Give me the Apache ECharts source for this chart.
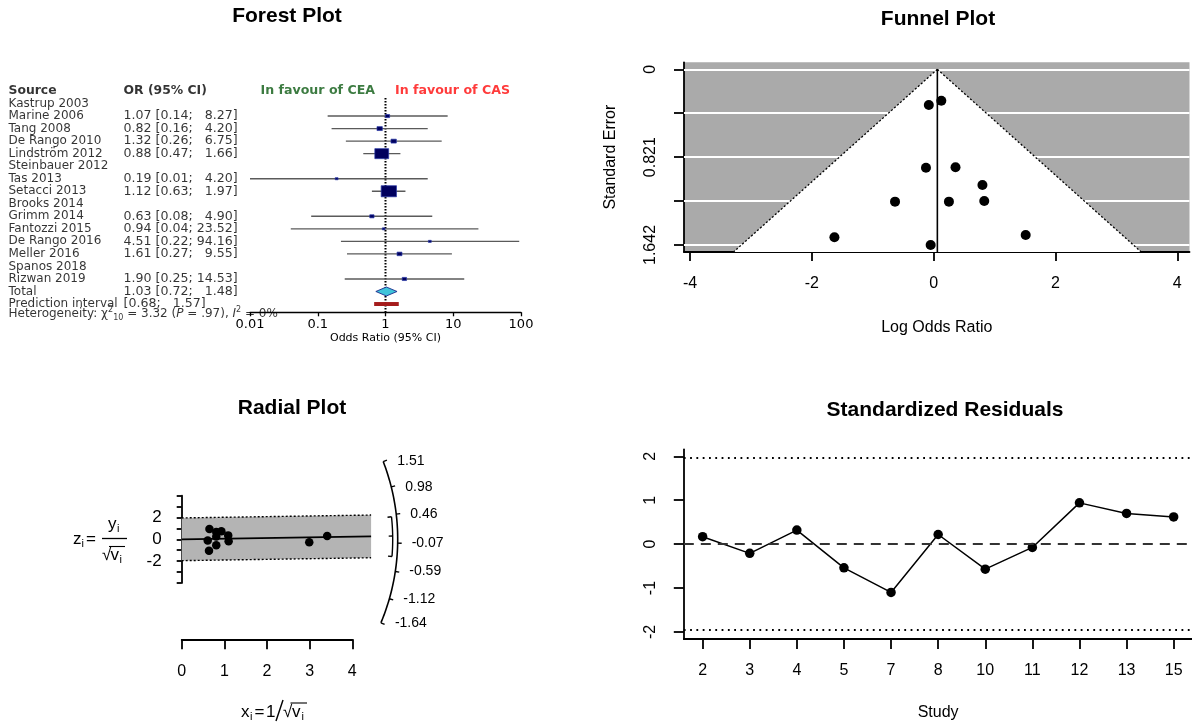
<!DOCTYPE html>
<html>
<head>
<meta charset="utf-8">
<script src="https://cdn.jsdelivr.net/npm/echarts@6/dist/echarts.min.js"></script>
<style>html,body{margin:0;padding:0;background:#fff}#c{width:1192px;height:725px}</style>
</head>
<body>
<div id="c"></div>
<script>
// ---------------- DATA ----------------
// Forest plot
const studies = ['Kastrup 2003','Marine 2006','Tang 2008','De Rango 2010','Lindström 2012','Steinbauer 2012','Tas 2013','Setacci 2013','Brooks 2014','Grimm 2014','Fantozzi 2015','De Rango 2016','Meller 2016','Spanos 2018','Rizwan 2019'];
const orValues = [null,1.07,0.82,1.32,0.88,null,0.19,1.12,null,0.63,0.94,4.51,1.61,null,1.90];
const ciLower  = [null,0.14,0.16,0.26,0.47,null,0.01,0.63,null,0.08,0.04,0.22,0.27,null,0.25];
const ciUpper  = [null,8.27,4.20,6.75,1.66,null,4.20,1.97,null,4.90,23.52,94.16,9.55,null,14.53];
const weights  = [null,3.1,4.9,4.9,32.7,null,1.4,40.0,null,3.1,1.3,1.4,4.1,null,3.2];
const totalOR = [1.03, 0.72, 1.48];
const predInterval = [0.68, 1.57];
const hetChi2 = '3.32', hetDf = '10', hetP = '.97', hetI2 = '0%';
const forestTickLabels = ['0.01','0.1','1','10','100'];

// Funnel plot (log odds ratio, standard error)
const funnelLogOR = [0.125,-0.08,-0.127,0.358,0.80,-0.635,0.25,0.83,-1.63,1.51,-0.05];
const funnelSE    = [0.293,0.334,0.92,0.916,1.081,1.237,1.237,1.231,1.57,1.549,1.642];
const pooledEstimate = 0.06;
const pooledCI = [-0.32, 0.42];
const funnelYTicks = [0, 0.4105, 0.821, 1.2315, 1.642];
const funnelYLabels = [0, 0.821, 1.642];
const funnelXTicks = [-4,-2,0,2,4];

// Radial plot
const radialX = [0.61,0.64,0.65,0.81,0.81,0.81,0.93,1.09,1.10,2.99,3.41];
const radialZ = [-0.10,-1.06,0.95,-0.55,0.25,0.68,0.74,0.36,-0.18,-0.27,0.31];
const radialArcTicks = ['1.51','0.98','0.46','-0.07','-0.59','-1.12','-1.64'];
const radialYLabels = [-2,0,2];

// Standardized residuals
const residStudy  = ['2','3','4','5','7','8','10','11','12','13','15'];
const residValues = [0.17,-0.21,0.32,-0.54,-1.10,0.22,-0.57,-0.075,0.94,0.70,0.62];
const residTicks  = [-2,-1,0,1,2];
const residLimit  = 1.96;

// ---------------- LAYOUT / STYLE ----------------
const FONT = 'Liberation Sans, Arial, Helvetica, sans-serif';
const DJ = 'DejaVu Sans, sans-serif';
const FOREST_YMAX = 17.66;
const FUNNEL_YMIN = -0.0657, FUNNEL_YMAX = 1.7077;
const RADIAL_XMAX = 4.44;

const fmt = v => v.toFixed(2);
const padHi = v => (v < 10 ? '  ' : '') + fmt(v);

// forest text column
const ORCOL = {fontSize:12.6};
const textData = [];
textData.push({name:'Source', value:[8,0], label:{fontWeight:'bold', fontSize:12.4}});
textData.push({name:'OR (95% CI)', value:[123,0], label:{fontWeight:'bold', fontSize:12.4}});
studies.forEach((s,i) => {
  textData.push({name:s, value:[8,i+1]});
  if (orValues[i] != null) textData.push({name:`${fmt(orValues[i])} [${fmt(ciLower[i])}; ${padHi(ciUpper[i])}]`, value:[123,i+1], label:ORCOL});
});
textData.push({name:'Total', value:[8,16]});
textData.push({name:`${fmt(totalOR[0])} [${fmt(totalOR[1])}; ${padHi(totalOR[2])}]`, value:[123,16], label:ORCOL});
textData.push({name:'Prediction interval', value:[8,17]});
textData.push({name:`[${fmt(predInterval[0])}; ${padHi(predInterval[1])}]`, value:[123,17], label:ORCOL});
textData.push({name:`Heterogeneity: χ{sup|2}{sub|${hetDf}} = ${hetChi2} ({it|P} = ${hetP}), {it|I}{sup|2} = ${hetI2}`, value:[8,17.78]});

const forestCI = [];
studies.forEach((s,i) => { if (orValues[i] != null) forestCI.push([ciLower[i], ciUpper[i], i+1, orValues[i], weights[i]]); });

const lineAx = {show:true, onZero:false, lineStyle:{color:'#000', width:1.8}};
const tickAx = (len) => ({show:true, inside:false, length:len, lineStyle:{color:'#000', width:1.8}});
const noSplit = {show:false};

const option = {
  animation:false,
  backgroundColor:'#fff',
  textStyle:{fontFamily:FONT},
  grid:[
    {left:0, top:91, width:250, height:221.3, outerBoundsMode:'none', containLabel:false},
    {left:250, top:91, width:271, height:221.3, outerBoundsMode:'none', containLabel:false},
    {left:684, top:62.3, width:505.5, height:189.7, show:true, backgroundColor:'#aaaaaa', borderWidth:0, borderColor:'transparent', outerBoundsMode:'none', containLabel:false},
    {left:181.7, top:495.7, width:189.4, height:87.2, outerBoundsMode:'none', containLabel:false},
    {left:181.7, top:638.3, width:170.6, height:1, outerBoundsMode:'none', containLabel:false},
    {left:683.8, top:449.3, width:508.7, height:189.7, outerBoundsMode:'none', containLabel:false}
  ],
  xAxis:[
    {gridIndex:0, type:'value', min:0, max:250, show:false},
    {gridIndex:1, type:'log', logBase:10, min:0.01, max:100,
      axisLine:{show:true, onZero:false, lineStyle:{color:'#000', width:1.3}},
      axisTick:{show:true, inside:false, length:4, lineStyle:{color:'#000', width:1.3}},
      axisLabel:{color:'#000', fontFamily:DJ, fontSize:13, margin:6,
        formatter: v => forestTickLabels[Math.round(Math.log10(v)) + 2]},
      splitLine:noSplit, minorTick:{show:false},
      name:'Odds Ratio (95% CI)', nameLocation:'middle', nameGap:17,
      nameTextStyle:{color:'#000', fontFamily:DJ, fontSize:11}},
    {gridIndex:2, type:'value', min:-4.1, max:4.2,
      axisLine:lineAx, axisTick:Object.assign(tickAx(9), {customValues:funnelXTicks}),
      axisLabel:{color:'#000', fontFamily:FONT, fontSize:16, margin:24, customValues:funnelXTicks},
      splitLine:noSplit,
      name:'Log Odds Ratio', nameLocation:'middle', nameGap:68,
      nameTextStyle:{color:'#000', fontFamily:FONT, fontSize:16}},
    {gridIndex:3, type:'value', min:0, max:RADIAL_XMAX, show:false},
    {gridIndex:4, type:'value', min:0, max:4, interval:1,
      axisLine:lineAx, axisTick:tickAx(10),
      axisLabel:{color:'#000', fontFamily:FONT, fontSize:16, margin:24},
      splitLine:noSplit},
    {gridIndex:5, type:'value', min:0.6, max:11.4,
      axisLine:lineAx,
      axisTick:Object.assign(tickAx(10), {customValues:residStudy.map((_,i)=>i+1)}),
      axisLabel:{color:'#000', fontFamily:FONT, fontSize:16, margin:24,
        customValues:residStudy.map((_,i)=>i+1), formatter: v => residStudy[Math.round(v)-1]},
      splitLine:noSplit,
      name:'Study', nameLocation:'middle', nameGap:66,
      nameTextStyle:{color:'#000', fontFamily:FONT, fontSize:16}}
  ],
  yAxis:[
    {gridIndex:0, type:'value', inverse:true, min:0, max:FOREST_YMAX, show:false},
    {gridIndex:1, type:'value', inverse:true, min:0, max:FOREST_YMAX, show:false},
    {gridIndex:2, type:'value', inverse:true, min:FUNNEL_YMIN, max:FUNNEL_YMAX,
      axisLine:lineAx, axisTick:Object.assign(tickAx(10), {customValues:funnelYTicks}),
      axisLabel:{color:'#000', fontFamily:FONT, fontSize:16, margin:25, rotate:90, customValues:funnelYLabels},
      splitLine:noSplit,
      name:'Standard Error', nameLocation:'middle', nameRotate:90, nameGap:65,
      nameTextStyle:{color:'#000', fontFamily:FONT, fontSize:16}},
    {gridIndex:3, type:'value', min:-4, max:4, interval:1,
      axisLine:lineAx, axisTick:tickAx(5),
      axisLabel:{color:'#000', fontFamily:FONT, fontSize:17, margin:20,
        formatter: v => radialYLabels.includes(v) ? String(v) : ''},
      splitLine:noSplit},
    {gridIndex:4, type:'value', min:0, max:1, show:false},
    {gridIndex:5, type:'value', min:-2.16, max:2.16,
      axisLine:lineAx, axisTick:Object.assign(tickAx(10), {customValues:residTicks}),
      axisLabel:{color:'#000', fontFamily:FONT, fontSize:16, margin:25, rotate:90, customValues:residTicks},
      splitLine:noSplit}
  ],
  graphic:[
    {type:'text', x:287, y:16, style:{text:'Forest Plot', fontFamily:FONT, fontSize:21, fontWeight:'bold', fill:'#000', align:'center', verticalAlign:'middle'}},
    {type:'text', x:938, y:19, style:{text:'Funnel Plot', fontFamily:FONT, fontSize:21, fontWeight:'bold', fill:'#000', align:'center', verticalAlign:'middle'}},
    {type:'text', x:292, y:408, style:{text:'Radial Plot', fontFamily:FONT, fontSize:21, fontWeight:'bold', fill:'#000', align:'center', verticalAlign:'middle'}},
    {type:'text', x:945, y:410, style:{text:'Standardized Residuals', fontFamily:FONT, fontSize:21, fontWeight:'bold', fill:'#000', align:'center', verticalAlign:'middle'}},
    // radial y label: z_i = y_i / sqrt(v_i)
    {type:'text', x:73, y:539, style:{text:'z', fontFamily:FONT, fontSize:17, fill:'#000', align:'left', verticalAlign:'middle'}},
    {type:'text', x:81.5, y:544, style:{text:'i', fontFamily:FONT, fontSize:11, fill:'#000', align:'left', verticalAlign:'middle'}},
    {type:'text', x:86, y:539, style:{text:'=', fontFamily:FONT, fontSize:17, fill:'#000', align:'left', verticalAlign:'middle'}},
    {type:'text', x:108, y:524, style:{text:'y', fontFamily:FONT, fontSize:17, fill:'#000', align:'left', verticalAlign:'middle'}},
    {type:'text', x:117, y:529, style:{text:'i', fontFamily:FONT, fontSize:11, fill:'#000', align:'left', verticalAlign:'middle'}},
    {type:'line', shape:{x1:102, y1:538.5, x2:127, y2:538.5}, style:{stroke:'#000', lineWidth:1.3}},
    {type:'text', x:102, y:555, style:{text:'√', fontFamily:FONT, fontSize:17, fill:'#000', align:'left', verticalAlign:'middle'}},
    {type:'text', x:110.5, y:555, style:{text:'v', fontFamily:FONT, fontSize:17, fill:'#000', align:'left', verticalAlign:'middle'}},
    {type:'text', x:119.5, y:560, style:{text:'i', fontFamily:FONT, fontSize:11, fill:'#000', align:'left', verticalAlign:'middle'}},
    {type:'line', shape:{x1:109, y1:546.5, x2:125, y2:546.5}, style:{stroke:'#000', lineWidth:1.1}},
    // radial x label: x_i = 1 / sqrt(v_i)
    {type:'text', x:241, y:712, style:{text:'x', fontFamily:FONT, fontSize:17, fill:'#000', align:'left', verticalAlign:'middle'}},
    {type:'text', x:250, y:717, style:{text:'i', fontFamily:FONT, fontSize:11, fill:'#000', align:'left', verticalAlign:'middle'}},
    {type:'text', x:254.5, y:712, style:{text:'=', fontFamily:FONT, fontSize:17, fill:'#000', align:'left', verticalAlign:'middle'}},
    {type:'text', x:266, y:712, style:{text:'1', fontFamily:FONT, fontSize:17, fill:'#000', align:'left', verticalAlign:'middle'}},
    {type:'line', shape:{x1:276, y1:721, x2:283, y2:700}, style:{stroke:'#000', lineWidth:1.4}},
    {type:'text', x:283, y:712, style:{text:'√', fontFamily:FONT, fontSize:17, fill:'#000', align:'left', verticalAlign:'middle'}},
    {type:'text', x:292, y:712, style:{text:'v', fontFamily:FONT, fontSize:17, fill:'#000', align:'left', verticalAlign:'middle'}},
    {type:'text', x:301.5, y:717, style:{text:'i', fontFamily:FONT, fontSize:11, fill:'#000', align:'left', verticalAlign:'middle'}},
    {type:'line', shape:{x1:290.5, y1:703, x2:307, y2:703}, style:{stroke:'#000', lineWidth:1.1}}
  ],
  series:[
    // ---------- Forest: text column ----------
    {type:'scatter', xAxisIndex:0, yAxisIndex:0, data:textData, symbolSize:1, clip:false, silent:true, z:10,
      itemStyle:{color:'rgba(0,0,0,0)'},
      label:{show:true, position:'right', distance:0, color:'#000', fontFamily:DJ, fontSize:12,
        formatter: p => p.name,
        rich:{
          sup:{fontFamily:DJ, fontSize:8, verticalAlign:'top', lineHeight:16, color:'#000'},
          sub:{fontFamily:DJ, fontSize:8, verticalAlign:'bottom', lineHeight:16, color:'#000'},
          it:{fontFamily:DJ, fontSize:12, fontStyle:'italic', lineHeight:16, color:'#000'}
        }}},
    // ---------- Forest: header favour labels ----------
    {type:'scatter', xAxisIndex:1, yAxisIndex:1, symbolSize:1, clip:false, silent:true, z:10,
      itemStyle:{color:'rgba(0,0,0,0)'},
      label:{show:true, fontFamily:DJ, fontSize:12.6, fontWeight:'bold', formatter: p => p.name},
      data:[
        {name:'In favour of CEA', value:[1,0], label:{position:'left', distance:10, color:'#0b5a12'}},
        {name:'In favour of CAS', value:[1,0], label:{position:'right', distance:9, color:'#ff0a0a'}}
      ]},
    // ---------- Forest: reference line at OR = 1 ----------
    {type:'custom', xAxisIndex:1, yAxisIndex:1, silent:true, clip:false, z:3,
      data:[[1, 0.55, FOREST_YMAX]], encode:{x:0, y:[1,2]},
      renderItem:(params, api) => {
        const a = api.coord([api.value(0), api.value(1)]), b = api.coord([api.value(0), api.value(2)]);
        return {type:'line', shape:{x1:a[0], y1:a[1], x2:b[0], y2:b[1]}, style:{stroke:'#000', lineWidth:2, lineDash:[1.6,1.4]}};
      }},
    // ---------- Forest: study CIs and boxes ----------
    {type:'custom', xAxisIndex:1, yAxisIndex:1, silent:true, clip:false, z:4,
      data:forestCI, encode:{x:[0,1,3], y:2},
      renderItem:(params, api) => {
        const row = api.value(2);
        const p1 = api.coord([api.value(0), row]), p2 = api.coord([api.value(1), row]);
        const c = api.coord([api.value(3), row]);
        const bw = 2.42*Math.sqrt(api.value(4)), bh = bw/1.38;
        return {type:'group', children:[
          {type:'line', shape:{x1:p1[0], y1:p1[1], x2:p2[0], y2:p2[1]}, style:{stroke:'#5a5a5a', lineWidth:1.4}},
          {type:'rect', shape:{x:c[0]-bw/2, y:c[1]-bh/2, width:bw, height:bh}, style:{fill:'#00005e', stroke:'#2a3aa8', lineWidth:0.7}}
        ]};
      }},
    // ---------- Forest: pooled diamond ----------
    {type:'custom', xAxisIndex:1, yAxisIndex:1, silent:true, clip:false, z:5,
      data:[[totalOR[1], totalOR[2], 16, totalOR[0]]], encode:{x:[0,1,3], y:2},
      renderItem:(params, api) => {
        const row = api.value(2);
        const l = api.coord([api.value(0), row]), r = api.coord([api.value(1), row]), c = api.coord([api.value(3), row]);
        return {type:'polygon', shape:{points:[l, [c[0], c[1]-4.5], r, [c[0], c[1]+4.5]]}, style:{fill:'#3fc4da', stroke:'#1c2a8c', lineWidth:0.9}};
      }},
    // ---------- Forest: prediction interval bar ----------
    {type:'custom', xAxisIndex:1, yAxisIndex:1, silent:true, clip:false, z:5,
      data:[[predInterval[0], predInterval[1], 17]], encode:{x:[0,1], y:2},
      renderItem:(params, api) => {
        const row = api.value(2);
        const l = api.coord([api.value(0), row]), r = api.coord([api.value(1), row]);
        return {type:'rect', shape:{x:l[0], y:l[1]-2, width:r[0]-l[0], height:4}, style:{fill:'#a51c1c'}};
      }},

    // ---------- Funnel: white triangle, funnel edges, estimate line ----------
    {type:'custom', xAxisIndex:2, yAxisIndex:2, silent:true, clip:false, z:2,
      data:[[pooledEstimate, 0]], encode:{x:0, y:1},
      renderItem:(params, api) => {
        const est = api.value(0);
        const apex = api.coord([est, 0]);
        const bl = api.coord([est - 1.96*FUNNEL_YMAX, FUNNEL_YMAX]);
        const br = api.coord([est + 1.96*FUNNEL_YMAX, FUNNEL_YMAX]);
        const bot = api.coord([est, FUNNEL_YMAX]);
        return {type:'group', children:[
          {type:'polygon', shape:{points:[apex, bl, br]}, style:{fill:'#fff'}},
          {type:'line', shape:{x1:apex[0], y1:apex[1], x2:bl[0], y2:bl[1]}, style:{stroke:'#000', lineWidth:1.3, lineDash:[2,2]}},
          {type:'line', shape:{x1:apex[0], y1:apex[1], x2:br[0], y2:br[1]}, style:{stroke:'#000', lineWidth:1.3, lineDash:[2,2]}},
          {type:'line', shape:{x1:apex[0], y1:apex[1], x2:bot[0], y2:bot[1]}, style:{stroke:'#000', lineWidth:1.6}}
        ]};
      }},
    // ---------- Funnel: points + white grid lines ----------
    {type:'scatter', xAxisIndex:2, yAxisIndex:2, silent:true, z:3,
      data: funnelLogOR.map((x,i) => [x, funnelSE[i]]),
      symbol:'circle', symbolSize:10, itemStyle:{color:'#000', opacity:1},
      markLine:{silent:true, z:1, symbol:['none','none'], label:{show:false}, animation:false,
        lineStyle:{color:'#ffffff', width:2, type:'solid'},
        data: funnelYTicks.map(v => ({yAxis:v}))}},

    // ---------- Radial: band, edges, regression line ----------
    {type:'custom', xAxisIndex:3, yAxisIndex:3, silent:true, clip:false, z:2,
      data:[[pooledEstimate, 0]], encode:{x:1, y:0},
      renderItem:(params, api) => {
        const b = api.value(0);
        const t0 = api.coord([0, 1.96]), t1 = api.coord([RADIAL_XMAX, b*RADIAL_XMAX + 1.96]);
        const b1 = api.coord([RADIAL_XMAX, b*RADIAL_XMAX - 1.96]), b0 = api.coord([0, -1.96]);
        const m0 = api.coord([0, 0]), m1 = api.coord([RADIAL_XMAX, b*RADIAL_XMAX]);
        return {type:'group', children:[
          {type:'polygon', shape:{points:[t0, t1, b1, b0]}, style:{fill:'#b4b4b4'}},
          {type:'line', shape:{x1:t0[0], y1:t0[1], x2:t1[0], y2:t1[1]}, style:{stroke:'#000', lineWidth:1.4, lineDash:[2,2]}},
          {type:'line', shape:{x1:b0[0], y1:b0[1], x2:b1[0], y2:b1[1]}, style:{stroke:'#000', lineWidth:1.4, lineDash:[2,2]}},
          {type:'line', shape:{x1:m0[0], y1:m0[1], x2:m1[0], y2:m1[1]}, style:{stroke:'#000', lineWidth:1.8}}
        ]};
      }},
    // ---------- Radial: points ----------
    {type:'scatter', xAxisIndex:3, yAxisIndex:3, silent:true, z:4,
      data: radialX.map((x,i) => [x, radialZ[i]]),
      symbol:'circle', symbolSize:8.5, itemStyle:{color:'#000', opacity:1}},
    // ---------- Radial: arc scale ----------
    {type:'custom', xAxisIndex:3, yAxisIndex:3, silent:true, clip:false, z:4,
      data:[[0, 0]], encode:{x:0, y:1},
      renderItem:(params, api) => {
        const o = api.coord([0, 0]);
        const ux = api.coord([1, 0])[0] - o[0];
        const uy = o[1] - api.coord([0, 1])[1];
        const R = 216, Rb = 211;
        const ang = t => Math.atan(t*uy/ux);
        const pt = (a, r) => [o[0] + r*Math.cos(a), o[1] - r*Math.sin(a)];
        const vals = radialArcTicks.map(Number);
        const aTop = ang(vals[0]), aBot = ang(vals[vals.length-1]);
        const arcPts = [];
        for (let k = 0; k <= 80; k++) arcPts.push(pt(aBot + (aTop - aBot)*k/80, R));
        const children = [{type:'polyline', shape:{points:arcPts}, style:{stroke:'#000', lineWidth:1.6, fill:null}}];
        vals.forEach((t, k) => {
          const a = ang(t), p = pt(a, R), q = pt(a, R + 4);
          children.push({type:'line', shape:{x1:p[0], y1:p[1], x2:q[0], y2:q[1]}, style:{stroke:'#000', lineWidth:1.4}});
          children.push({type:'text', x:p[0] + 14, y:p[1], style:{text:radialArcTicks[k], fontFamily:FONT, fontSize:14, fill:'#000', align:'left', verticalAlign:'middle'}});
        });
        // pooled estimate bracket
        const aLo = ang(pooledCI[0]), aHi = ang(pooledCI[1]), aEst = ang(pooledEstimate);
        const bPts = [];
        for (let k = 0; k <= 20; k++) bPts.push(pt(aLo + (aHi - aLo)*k/20, Rb));
        children.push({type:'polyline', shape:{points:bPts}, style:{stroke:'#000', lineWidth:1.4, fill:null}});
        [aLo, aEst, aHi].forEach(a => {
          const p = pt(a, Rb), q = pt(a, Rb - 4);
          children.push({type:'line', shape:{x1:p[0], y1:p[1], x2:q[0], y2:q[1]}, style:{stroke:'#000', lineWidth:1.4}});
        });
        return {type:'group', children};
      }},

    // ---------- Standardized residuals ----------
    {type:'line', xAxisIndex:5, yAxisIndex:5, silent:true, z:3,
      data: residValues.map((v,i) => [i+1, v]),
      symbol:'circle', symbolSize:9.5, showSymbol:true,
      itemStyle:{color:'#000', opacity:1}, lineStyle:{color:'#000', width:1.5},
      markLine:{silent:true, symbol:['none','none'], label:{show:false}, animation:false,
        data:[
          {yAxis: residLimit, lineStyle:{color:'#000', width:1.8, type:[1.8,4.5]}},
          {yAxis: -residLimit, lineStyle:{color:'#000', width:1.8, type:[1.8,4.5]}},
          {yAxis: 0, lineStyle:{color:'#333', width:2, type:[10,7]}}
        ]}}
  ]
};

const chart = echarts.init(document.getElementById('c'), null, {renderer:'canvas', width:1192, height:725});
chart.setOption(option);
</script>
</body>
</html>
